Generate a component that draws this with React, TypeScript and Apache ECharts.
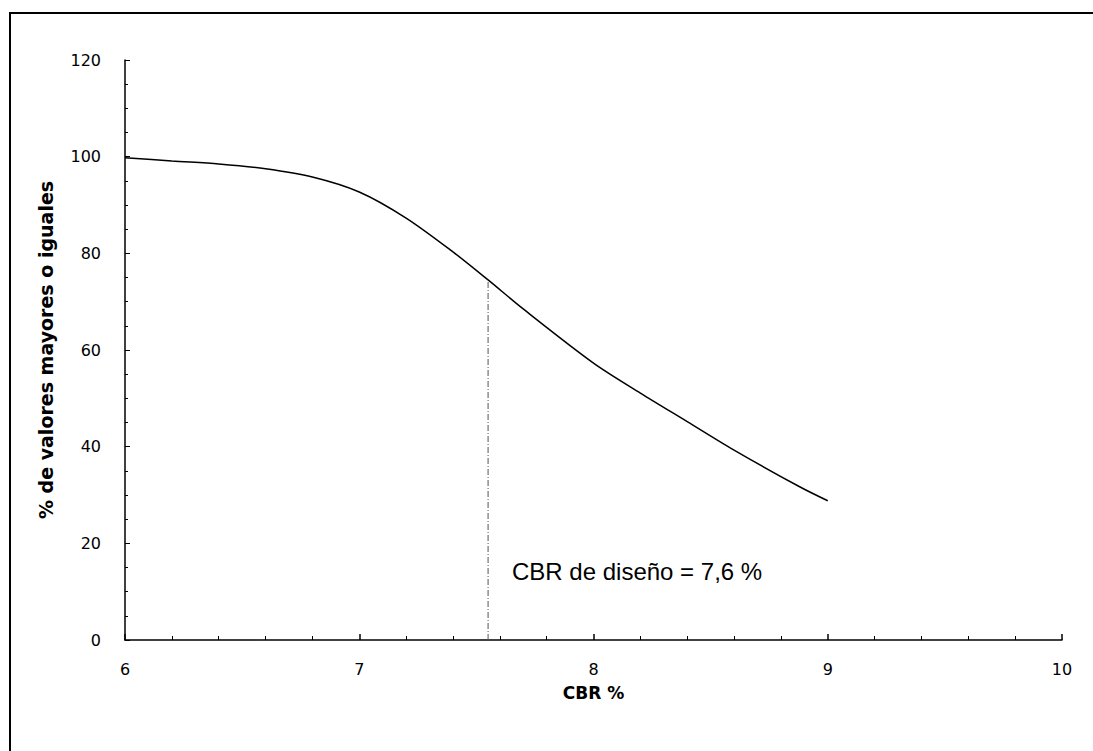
import React, { useEffect, useRef } from "react";
import * as echarts from "echarts";

const cbrValues = [6.0, 6.2, 6.4, 6.6, 6.8, 7.0, 7.2, 7.4, 7.55, 7.7, 8.0, 8.2, 8.4, 8.6, 8.88, 9.0];
const percentValues = [99.8, 99.1, 98.5, 97.5, 95.8, 92.7, 87.3, 80.3, 74.5, 68.5, 57.3, 51.1, 45.2, 39.3, 31.7, 28.8];
const designCbr = 7.55;
const designPercent = 74.5;
const annotation = "CBR de diseño = 7,6 %";
const xAxisName = "CBR %";
const yAxisName = "% de valores mayores o iguales";

export default function App() {
  const ref = useRef<HTMLDivElement>(null);
  useEffect(() => {
    if (!ref.current) return;
    const chart = echarts.init(ref.current, null, { renderer: "svg" });
    const font = "DejaVu Sans, sans-serif";
    const textFont = "Liberation Sans, Arial, sans-serif";
    chart.setOption({
      animation: false,
      backgroundColor: "#fff",
      grid: { left: 125, right: 31, top: 60, bottom: 111 },
      xAxis: {
        type: "value",
        min: 6,
        max: 10,
        interval: 1,
        name: xAxisName,
        nameLocation: "middle",
        nameGap: 44,
        nameTextStyle: { fontFamily: font, fontWeight: "bold", fontSize: 17, color: "#000" },
        axisLine: { lineStyle: { color: "#000", width: 1.5 } },
        axisTick: { show: true, inside: true, length: 6, lineStyle: { color: "#000", width: 1.5 } },
        minorTick: { show: true, splitNumber: 5, length: 4, lineStyle: { color: "#000" } },
        axisLabel: { fontFamily: font, fontSize: 16, color: "#000", margin: 21 },
        splitLine: { show: false },
      },
      yAxis: {
        type: "value",
        min: 0,
        max: 120,
        interval: 20,
        name: yAxisName,
        nameLocation: "middle",
        nameGap: 70,
        nameRotate: 90,
        nameTextStyle: { fontFamily: font, fontWeight: "bold", fontSize: 19, color: "#000" },
        axisLine: { show: true, lineStyle: { color: "#000", width: 1.5 } },
        axisTick: { show: true, inside: true, length: 5, lineStyle: { color: "#000" } },
        minorTick: { show: true, splitNumber: 4, length: 3, lineStyle: { color: "#000" } },
        axisLabel: { fontFamily: font, fontSize: 16, color: "#000", margin: 24 },
        splitLine: { show: false },
      },
      series: [
        {
          type: "line",
          data: cbrValues.map((x, i) => [x, percentValues[i]]),
          smooth: 0.3,
          showSymbol: false,
          lineStyle: { color: "#000", width: 1.5 },
        },
        {
          type: "line",
          data: [
            [designCbr, 0],
            [designCbr, designPercent],
          ],
          showSymbol: false,
          lineStyle: { color: "#555", width: 1, type: [6, 2, 1, 2] },
        },
      ],
      graphic: [
        {
          type: "rect",
          shape: { x: 10, y: 13, width: 1200, height: 900 },
          style: { fill: "none", stroke: "#000", lineWidth: 2 },
        },
        {
          type: "text",
          x: 512,
          y: 571,
          style: { text: annotation, fontFamily: textFont, fontSize: 24, fill: "#000", verticalAlign: "middle" },
        },
      ],
    });
    return () => chart.dispose();
  }, []);
  return <div ref={ref} style={{ position: "fixed", left: 0, top: 0, width: 1093, height: 751 }} />;
}
